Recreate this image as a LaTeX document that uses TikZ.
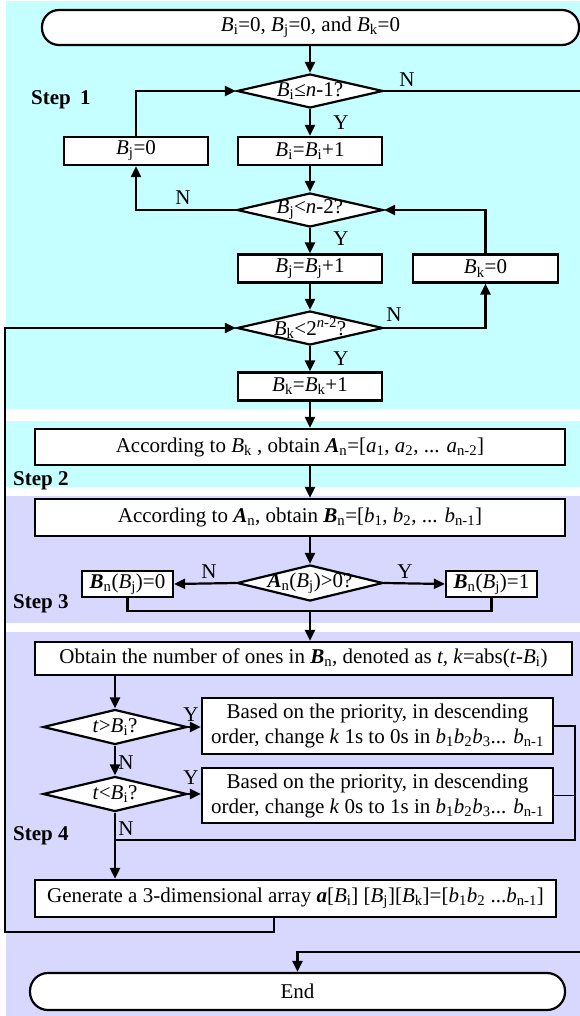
\documentclass[tikz,border=0pt]{standalone}
\usepackage{fontspec}
\setmainfont{Liberation Serif}
\usetikzlibrary{arrows.meta,shapes.geometric}
\definecolor{cyanbg}{RGB}{198,255,255}
\definecolor{lavbg}{RGB}{216,216,255}
\newcommand{\Bx}[1]{\textit{B}\textsubscript{#1}}
\newcommand{\bx}[1]{\textit{b}\textsubscript{#1}}
\newcommand{\ax}[1]{\textit{a}\textsubscript{#1}}
\newcommand{\Bn}{\textbf{\textit{B}}\textsubscript{n}}
\newcommand{\An}{\textbf{\textit{A}}\textsubscript{n}}
\begin{document}
\begin{tikzpicture}[x=1pt,y=-1pt,
  font=\fontsize{21}{25}\selectfont,
  line width=2.2pt,
  arr/.style={-{Triangle[length=11pt,width=10pt]}},
  box/.style={draw, fill=white, inner sep=0pt, line width=2.2pt},
  dia/.style={draw, fill=white, shape=diamond, inner sep=0pt, line width=2.2pt},
  lab/.style={inner sep=0pt},
  steplab/.style={font=\fontsize{21}{25}\selectfont\bfseries, anchor=base west, inner sep=0pt}]

\useasboundingbox (0,0) rectangle (580,1016);
\fill[cyanbg] (6,1) rectangle (580,409);
\fill[cyanbg] (6,421) rectangle (580,487);
\fill[lavbg] (6,496) rectangle (580,623);
\fill[lavbg] (6,632) rectangle (580,1016);

% Step 1
\node[box, rounded corners=17pt, minimum width=537pt, minimum height=35pt] (start) at (310.5,27.5) {\Bx{i}=0, \Bx{j}=0, and \Bx{k}=0};
\node[dia, minimum width=146pt, minimum height=34pt] (d1) at (310,91) {};
\node[lab] (d1t) at (d1) {\Bx{i}≤\textit{n}-1?};
\node[box, minimum width=144pt, minimum height=28pt] (bj0) at (136,151) {\Bx{j}=0};
\node[box, minimum width=144pt, minimum height=28pt] (bi1) at (310,151) {\Bx{i}=\Bx{i}+1};
\node[dia, minimum width=146pt, minimum height=34pt] (d2) at (310,210) {};
\node[lab] (d2t) at (d2) {\Bx{j}<\textit{n}-2?};
\node[box, minimum width=144pt, minimum height=28pt] (bj1) at (310,268.5) {\Bx{j}=\Bx{j}+1};
\node[box, minimum width=145pt, minimum height=28pt] (bk0) at (485.5,268.5) {\Bx{k}=0};
\node[dia, minimum width=146pt, minimum height=34pt] (d3) at (310,328) {};
\node[lab] (d3t) at (d3) {\Bx{k}<2\textsuperscript{\textit{n}-2}?};
\node[box, minimum width=144pt, minimum height=28pt] (bk1) at (310,386.5) {\Bx{k}=\Bx{k}+1};

% Step 2 and 3
\node[box, minimum width=530pt, minimum height=36pt] (s2) at (300,447) {According to \Bx{k} , obtain \An=[\ax{1}, \ax{2}, ... \ax{n-2}]};
\node[box, minimum width=530pt, minimum height=37pt] (s3) at (300,517.5) {According to \An, obtain \Bn=[\bx{1}, \bx{2}, ... \bx{n-1}]};
\node[dia, minimum width=146pt, minimum height=36pt] (d4) at (310,583) {};
\node[lab] (d4t) at (d4) {\An(\Bx{j})>0?};
\node[box, minimum width=91pt, minimum height=26pt] (bn0) at (127.5,584) {\Bn(\Bx{j})=0};
\node[box, minimum width=91pt, minimum height=26pt] (bn1) at (491.5,584) {\Bn(\Bx{j})=1};

% Step 4
\node[box, minimum width=537pt, minimum height=33pt] (s4) at (303.5,658.5) {Obtain the number of ones in \Bn, denoted as \textit{t,} \textit{k}=abs(\textit{t}-\Bx{i})};
\node[dia, minimum width=144pt, minimum height=35pt] (d5) at (115,727) {};
\node[lab] (d5t) at (d5) {\textit{t}>\Bx{i}?};
\node[box, minimum width=351pt, minimum height=56pt, align=center] (b5) at (377.5,726) {Based on the priority, in descending\\order, change \textit{k} 1s to 0s in \bx{1}\bx{2}\bx{3}... \bx{n-1}};
\node[dia, minimum width=144pt, minimum height=35pt] (d6) at (115,794) {};
\node[lab] (d6t) at (d6) {\textit{t}<\Bx{i}?};
\node[box, minimum width=351pt, minimum height=55pt, align=center] (b6) at (377.5,795.5) {Based on the priority, in descending\\order, change \textit{k} 0s to 1s in \bx{1}\bx{2}\bx{3}... \bx{n-1}};
\node[box, minimum width=521pt, minimum height=37pt] (gen) at (295.5,898.5) {Generate a 3-dimensional array \textbf{\textit{a}}[\Bx{i}] [\Bx{j}][\Bx{k}]=[\bx{1}\bx{2} ...\bx{n-1}]};
\node[box, rounded corners=18pt, minimum width=535pt, minimum height=37pt] (end) at (297.5,991.5) {End};

% step labels
\node[steplab] (st1) at (30,105) {Step\hspace{0.45em}1};
\node[steplab] (st2) at (12,485) {Step 2};
\node[steplab] (st3) at (12,608) {Step 3};
\node[steplab] (st4) at (12,840) {Step 4};

% Y/N labels
\node[lab] (n1) at (407,80) {N};
\node[lab] (y1) at (341,123) {Y};
\node[lab] (n2) at (183,198) {N};
\node[lab] (y2) at (341,239) {Y};
\node[lab] (n3) at (394,315) {N};
\node[lab] (y3) at (341,359) {Y};
\node[lab] (n4) at (209,572) {N};
\node[lab] (y4) at (405,572) {Y};
\node[lab] (y5) at (191,715) {Y};
\node[lab] (n5) at (126,763) {N};
\node[lab] (y6) at (191,778) {Y};
\node[lab] (n6) at (126,829) {N};

% coordinates
\coordinate (rt) at (581.5,91);
\coordinate (rb) at (581.5,952);
\coordinate (c1) at (274,932);
\coordinate (c2) at (5,932);
\coordinate (m3) at (310,611);
\coordinate (m4) at (115,840);
\coordinate (r4) at (575,840);

% connectors step 1
\draw[arr] (start.south -| d1.north) -- (d1.north);
\draw (d1.east) -- (rt) -- (rb);
\draw[arr] (rb) -| (end.north);
\draw[arr] (d1.south) -- (bi1.north);
\draw[arr] (bi1.south) -- (d2.north);
\draw[arr] (d2.west) -| (bj0.south);
\draw[arr] (bj0.north) |- (d1.west);
\draw[arr] (d2.south) -- (bj1.north);
\draw[arr] (bj1.south) -- (d3.north);
\draw[arr] (d3.east) -| (bk0.south);
\draw[arr] (bk0.north) |- (d2.east);
\draw[arr] (d3.south) -- (bk1.north);
\draw[arr] (bk1.south) -- (bk1.south |- s2.north);

% steps 2, 3
\draw[arr] (bk1.south |- s2.south) -- (bk1.south |- s3.north);
\draw[arr] (bk1.south |- s3.south) -- (d4.north);
\draw[arr] (d4.west) -- (bn0.east);
\draw[arr] (d4.east) -- (bn1.west);
\draw (bn0.south) |- (m3) -| (bn1.south);
\draw[arr] (m3) -- (m3 |- s4.north);

% step 4
\draw[arr] (s4.south -| d5.north) -- (d5.north);
\draw[arr] (d5.east) -- (d5.east -| b5.west);
\draw[arr] (d5.south) -- (d6.north);
\draw[arr] (d6.east) -- (d6.east -| b6.west);
\draw (d6.south) -- (m4);
\draw[arr] (m4) -- (m4 |- gen.north);
\draw[line width=1.4pt] (b5.east) -| (r4) -- (m4);
\draw[line width=1.4pt] (b6.east) -- (b6.east -| r4);
\draw[arr] (gen.south -| c1) -- (c1) -- (c2) |- (d3.west);
\end{tikzpicture}
\end{document}
